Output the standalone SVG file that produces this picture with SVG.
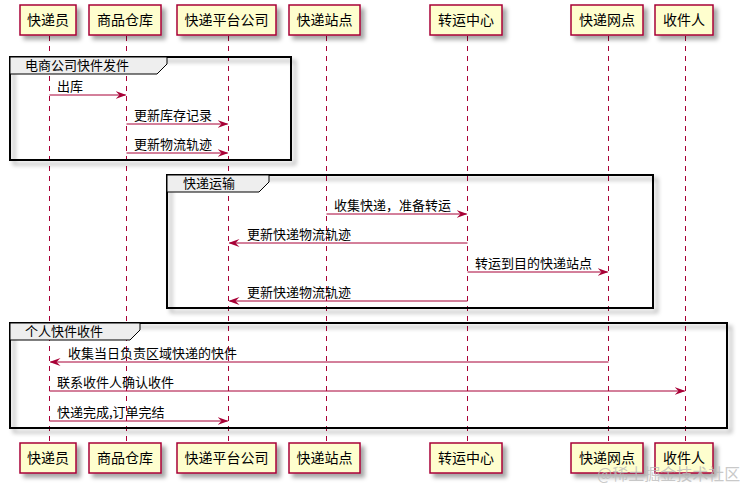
<svg xmlns="http://www.w3.org/2000/svg" width="740" height="488" viewBox="0 0 740 488">
<defs>
<filter id="sh" x="-20%" y="-20%" width="150%" height="160%">
<feDropShadow dx="4" dy="4" stdDeviation="2" flood-color="#000" flood-opacity="0.35"/>
</filter>
<marker id="ah" viewBox="0 0 11 8" refX="10" refY="4" markerWidth="11" markerHeight="8" markerUnits="userSpaceOnUse" orient="auto">
<polygon points="0,0 11,4 0,8 4,4" fill="#A80036"/>
</marker>
</defs>
<style>
text{font-family:"Noto Sans CJK SC","Noto Sans",sans-serif;fill:#000}
.p rect{fill:#FEFECE;stroke:#A80036;stroke-width:1.5;filter:url(#sh)}
.p text{font-size:14px;text-anchor:middle}
.ll{stroke:#A80036;stroke-width:1;stroke-dasharray:5,5}
.m line{stroke:#A80036;stroke-width:1;marker-end:url(#ah)}
.m text{font-size:13px}
.fr rect{fill:none;stroke:#000;stroke-width:2;filter:url(#sh)}
.fr polygon{fill:#EEEEEE;stroke:#000;stroke-width:1}
.fr text{font-size:13px}
</style>
<rect width="740" height="488" fill="#fff"/>
<g id="lifelines">
<line class="ll" x1="49.5" y1="36" x2="49.5" y2="443"/>
<line class="ll" x1="126.5" y1="36" x2="126.5" y2="443"/>
<line class="ll" x1="228.5" y1="36" x2="228.5" y2="443"/>
<line class="ll" x1="326.5" y1="36" x2="326.5" y2="443"/>
<line class="ll" x1="467.5" y1="36" x2="467.5" y2="443"/>
<line class="ll" x1="608.5" y1="36" x2="608.5" y2="443"/>
<line class="ll" x1="685.5" y1="36" x2="685.5" y2="443"/>
</g>
<g id="frame1" class="fr">
<rect x="10" y="57" width="281" height="103"/>
<polygon points="10,57 167,57 167,64 157,74 10,74"/>
<text x="25" y="70">电商公司快件发件</text>
</g>
<g id="frame2" class="fr">
<rect x="167" y="175" width="486" height="133"/>
<polygon points="167,175 269,175 269,182 259,192 167,192"/>
<text x="183" y="188">快递运输</text>
</g>
<g id="frame3" class="fr">
<rect x="10" y="323" width="717" height="105"/>
<polygon points="10,323 140,323 140,330 130,340 10,340"/>
<text x="25" y="336">个人快件收件</text>
</g>
<g id="p_top">
<g id="kdy" class="p"><rect x="20" y="5" width="56" height="30"/><text x="48" y="25">快递员</text></g>
<g id="spck" class="p"><rect x="89" y="5" width="72" height="30"/><text x="125" y="25">商品仓库</text></g>
<g id="kdptgs" class="p"><rect x="177" y="5" width="99" height="30"/><text x="226.5" y="25">快递平台公司</text></g>
<g id="kdzd" class="p"><rect x="289" y="5" width="71" height="30"/><text x="324.5" y="25">快递站点</text></g>
<g id="zyzx" class="p"><rect x="430" y="5" width="72" height="30"/><text x="466" y="25">转运中心</text></g>
<g id="kdwd" class="p"><rect x="571" y="5" width="72" height="30"/><text x="607" y="25">快递网点</text></g>
<g id="sjr" class="p"><rect x="655" y="5" width="58" height="30"/><text x="684" y="25">收件人</text></g>
</g>
<g id="p_bottom">
<g id="kdy_b" class="p"><rect x="20" y="443" width="56" height="30"/><text x="48" y="463">快递员</text></g>
<g id="spck_b" class="p"><rect x="89" y="443" width="72" height="30"/><text x="125" y="463">商品仓库</text></g>
<g id="kdptgs_b" class="p"><rect x="177" y="443" width="99" height="30"/><text x="226.5" y="463">快递平台公司</text></g>
<g id="kdzd_b" class="p"><rect x="289" y="443" width="71" height="30"/><text x="324.5" y="463">快递站点</text></g>
<g id="zyzx_b" class="p"><rect x="430" y="443" width="72" height="30"/><text x="466" y="463">转运中心</text></g>
<g id="kdwd_b" class="p"><rect x="571" y="443" width="72" height="30"/><text x="607" y="463">快递网点</text></g>
<g id="sjr_b" class="p"><rect x="655" y="443" width="58" height="30"/><text x="684" y="463">收件人</text></g>
</g>
<g id="connectors" class="m">
<line x1="49.5" y1="95" x2="125.5" y2="95"/><text x="57" y="91">出库</text>
<line x1="126.5" y1="124" x2="227.5" y2="124"/><text x="134" y="120">更新库存记录</text>
<line x1="126.5" y1="153" x2="227.5" y2="153"/><text x="134" y="149">更新物流轨迹</text>
<line x1="326.5" y1="214" x2="466.5" y2="214"/><text x="334" y="210">收集快递，准备转运</text>
<line x1="467.5" y1="243" x2="229.5" y2="243"/><text x="247" y="239">更新快递物流轨迹</text>
<line x1="467.5" y1="272" x2="607.5" y2="272"/><text x="475" y="268">转运到目的快递站点</text>
<line x1="467.5" y1="301" x2="229.5" y2="301"/><text x="247" y="297">更新快递物流轨迹</text>
<line x1="608.5" y1="362" x2="50.5" y2="362"/><text x="68" y="358">收集当日负责区域快递的快件</text>
<line x1="49.5" y1="391" x2="684.5" y2="391"/><text x="57" y="387">联系收件人确认收件</text>
<line x1="49.5" y1="421" x2="227.5" y2="421"/><text x="57" y="417">快递完成,订单完结</text>
</g>
<text x="597" y="480" style="font-size:16px;fill:#bbb;fill-opacity:0.8">@稀土掘金技术社区</text>
</svg>
